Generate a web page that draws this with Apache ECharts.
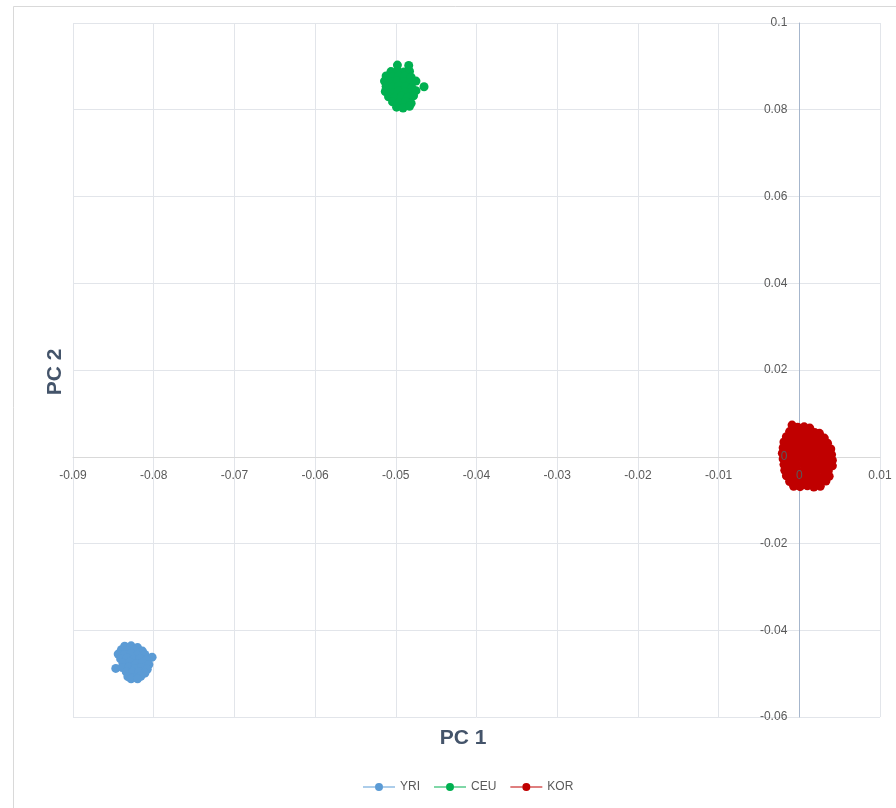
<!DOCTYPE html>
<html>
<head>
<meta charset="utf-8">
<script src="https://cdn.jsdelivr.net/npm/echarts@6/dist/echarts.min.js"></script>
<style>html,body{margin:0;padding:0;background:#fff}#c{width:896px;height:808px}</style>
</head>
<body>
<div id="c"></div>
<script>
var seriesNames = ['YRI', 'CEU', 'KOR'];
var seriesColors = ['#5B9BD5', '#00B050', '#C00000'];
var xTitle = 'PC 1';
var yTitle = 'PC 2';

var yriPoints = [
  [-0.0836,-0.0437],[-0.0828,-0.0436],[-0.0820,-0.0440],[-0.0840,-0.0445],[-0.0832,-0.0447],
  [-0.0824,-0.0446],[-0.0814,-0.0448],[-0.0844,-0.0455],[-0.0836,-0.0456],[-0.0828,-0.0454],
  [-0.0820,-0.0457],[-0.0811,-0.0456],[-0.0802,-0.0462],[-0.0841,-0.0466],[-0.0833,-0.0464],
  [-0.0825,-0.0467],[-0.0817,-0.0465],[-0.0809,-0.0469],[-0.0838,-0.0476],[-0.0830,-0.0474],
  [-0.0822,-0.0477],[-0.0814,-0.0475],[-0.0806,-0.0479],[-0.0847,-0.0488],[-0.0839,-0.0486],
  [-0.0831,-0.0485],[-0.0823,-0.0488],[-0.0815,-0.0486],[-0.0808,-0.0490],[-0.0834,-0.0496],
  [-0.0826,-0.0497],[-0.0818,-0.0495],[-0.0811,-0.0499],[-0.0832,-0.0507],[-0.0824,-0.0509],
  [-0.0816,-0.0506],[-0.0828,-0.0512],[-0.0820,-0.0512]
];

var ceuPoints = [
  [-0.0498,0.0903],[-0.0484,0.0902],
  [-0.0506,0.0888],[-0.0498,0.0890],[-0.0490,0.0887],[-0.0483,0.0889],
  [-0.0512,0.0878],[-0.0504,0.0876],[-0.0496,0.0879],[-0.0489,0.0877],[-0.0481,0.0875],
  [-0.0514,0.0866],[-0.0506,0.0864],[-0.0498,0.0867],[-0.0490,0.0865],[-0.0482,0.0863],[-0.0475,0.0866],
  [-0.0512,0.0854],[-0.0504,0.0852],[-0.0496,0.0855],[-0.0488,0.0853],[-0.0480,0.0851],[-0.0465,0.0853],
  [-0.0513,0.0842],[-0.0505,0.0840],[-0.0497,0.0843],[-0.0489,0.0841],[-0.0481,0.0839],[-0.0475,0.0844],
  [-0.0509,0.0830],[-0.0501,0.0828],[-0.0493,0.0831],[-0.0485,0.0829],[-0.0478,0.0832],
  [-0.0504,0.0818],[-0.0496,0.0816],[-0.0488,0.0819],[-0.0481,0.0815],
  [-0.0499,0.0806],[-0.0491,0.0804],[-0.0483,0.0808]
];

var korPoints = [
  [-0.0009,0.0073],
  [-0.0002,0.0068],[0.0006,0.0069],[0.0013,0.0066],
  [-0.0012,0.0058],[-0.0004,0.0060],[0.0004,0.0057],[0.0011,0.0059],[0.0019,0.0056],[0.0025,0.0054],
  [-0.0016,0.0046],[-0.0008,0.0047],[0.0001,0.0045],[0.0009,0.0048],[0.0016,0.0046],[0.0024,0.0044],[0.0031,0.0043],
  [-0.0019,0.0034],[-0.0011,0.0035],[-0.0003,0.0033],[0.0005,0.0036],[0.0012,0.0034],[0.0020,0.0032],[0.0028,0.0035],[0.0035,0.0031],
  [-0.0020,0.0021],[-0.0012,0.0022],[-0.0005,0.0020],[0.0003,0.0023],[0.0011,0.0021],[0.0018,0.0019],[0.0026,0.0022],[0.0033,0.0020],[0.0039,0.0018],
  [-0.0021,0.0008],[-0.0013,0.0009],[-0.0006,0.0007],[0.0002,0.0010],[0.0010,0.0008],[0.0017,0.0006],[0.0025,0.0009],[0.0032,0.0007],[0.0040,0.0005],
  [-0.0020,-0.0005],[-0.0012,-0.0004],[-0.0004,-0.0006],[0.0004,-0.0003],[0.0011,-0.0005],[0.0019,-0.0007],[0.0027,-0.0004],[0.0034,-0.0006],[0.0041,-0.0008],
  [-0.0019,-0.0018],[-0.0011,-0.0017],[-0.0003,-0.0019],[0.0005,-0.0016],[0.0013,-0.0018],[0.0021,-0.0020],[0.0028,-0.0017],[0.0036,-0.0019],[0.0041,-0.0021],
  [-0.0018,-0.0031],[-0.0010,-0.0030],[-0.0002,-0.0032],[0.0006,-0.0029],[0.0014,-0.0031],[0.0022,-0.0033],[0.0029,-0.0030],[0.0036,-0.0032],
  [-0.0016,-0.0044],[-0.0008,-0.0043],[0.0000,-0.0045],[0.0008,-0.0042],[0.0016,-0.0044],[0.0023,-0.0046],[0.0031,-0.0043],[0.0037,-0.0045],
  [-0.0012,-0.0057],[-0.0004,-0.0056],[0.0004,-0.0058],[0.0012,-0.0055],[0.0020,-0.0057],[0.0027,-0.0059],[0.0033,-0.0056],
  [-0.0007,-0.0068],[0.0001,-0.0069],[0.0010,-0.0067],[0.0018,-0.0070],[0.0026,-0.0068],
  [0.0000,0.0052],[0.0014,0.0040],[-0.0007,0.0027],[0.0022,0.0014],[0.0007,0.0001],[-0.0015,-0.0011],
  [0.0031,-0.0012],[0.0009,-0.0024],[-0.0006,-0.0037],[0.0026,-0.0050],[0.0015,-0.0062],[0.0008,0.0062]
];

var xTicks = {min: -0.09, max: 0.01, interval: 0.01};
var yTicks = {min: -0.06, max: 0.1, interval: 0.02};

var FONT = '"Liberation Sans", "DejaVu Sans", sans-serif';
var W = 896, H = 808;
var G = {left: 73, right: 16, top: 23, bottom: 91};
var gw = W - G.left - G.right, gh = H - G.top - G.bottom;
// move axes so they cross at zero (Excel style)
var yAxisOffset = -gw * (0 - xTicks.min) / (xTicks.max - xTicks.min);
var xAxisOffset = -gh * (0 - yTicks.min) / (yTicks.max - yTicks.min);

var chart = echarts.init(document.getElementById('c'), null, {renderer: 'canvas'});

var legendIcon = 'path://M0,4 L12,4 L12,5 L0,5 Z M20,4 L32,4 L32,5 L20,5 Z M12,4.5 A4,4 0 1,1 20,4.5 A4,4 0 1,1 12,4.5 Z';

var allData = [yriPoints, ceuPoints, korPoints];
var series = seriesNames.map(function (n, i) {
  return {
    name: n,
    type: 'scatter',
    xAxisIndex: 0,
    yAxisIndex: 0,
    data: allData[i],
    symbol: 'circle',
    symbolSize: 9,
    itemStyle: {color: seriesColors[i], opacity: 1},
    emphasis: {disabled: true},
    animation: false
  };
});

var fmt = function (v) {
  return (+v.toFixed(3)).toString();
};

var xLabel = {color: '#595959', fontSize: 12, fontFamily: FONT, margin: 13, formatter: fmt, showMinLabel: true, showMaxLabel: true, hideOverlap: false};
var yLabel = {color: '#595959', fontSize: 12, fontFamily: FONT, margin: 12, formatter: fmt, showMinLabel: true, showMaxLabel: true, hideOverlap: false};

chart.setOption({
  animation: false,
  backgroundColor: '#ffffff',
  grid: {left: G.left, right: G.right, top: G.top, bottom: G.bottom, containLabel: false},
  xAxis: [{
    type: 'value',
    position: 'bottom',
    offset: xAxisOffset,
    min: xTicks.min, max: xTicks.max, interval: xTicks.interval,
    axisLine: {show: true, onZero: false, lineStyle: {color: '#D9D9D9', width: 1}},
    axisTick: {show: false},
    axisLabel: {show: false},
    splitLine: {show: true, lineStyle: {color: '#E2E5EA', width: 1}},
    z: 0
  }, {
    type: 'value',
    position: 'bottom',
    offset: xAxisOffset,
    min: xTicks.min, max: xTicks.max, interval: xTicks.interval,
    axisLine: {show: false, onZero: false},
    axisTick: {show: false},
    axisLabel: xLabel,
    splitLine: {show: false},
    z: 10
  }],
  yAxis: [{
    type: 'value',
    position: 'left',
    offset: yAxisOffset,
    min: yTicks.min, max: yTicks.max, interval: yTicks.interval,
    axisLine: {show: true, onZero: false, lineStyle: {color: '#A6B6CC', width: 1}},
    axisTick: {show: false},
    axisLabel: {show: false},
    splitLine: {show: true, lineStyle: {color: '#E2E5EA', width: 1}},
    z: 0
  }, {
    type: 'value',
    position: 'left',
    offset: yAxisOffset,
    min: yTicks.min, max: yTicks.max, interval: yTicks.interval,
    axisLine: {show: false, onZero: false},
    axisTick: {show: false},
    axisLabel: yLabel,
    splitLine: {show: false},
    z: 10
  }],
  legend: {
    data: seriesNames.map(function (n) { return {name: n, icon: legendIcon}; }),
    left: 363,
    top: 781,
    padding: 0,
    itemWidth: 32,
    itemHeight: 9,
    itemGap: 14,
    textStyle: {color: '#595959', fontSize: 12, fontFamily: FONT},
    selectedMode: false
  },
  graphic: [
    {type: 'rect', shape: {x: 13.5, y: 6.5, width: 1000, height: 1000}, style: {fill: 'none', stroke: '#D9D9D9', lineWidth: 1}, silent: true, z: -1},
    {type: 'text', x: 463, y: 738, style: {text: xTitle, font: 'bold 21px ' + FONT, fill: '#44546A', textAlign: 'center', textVerticalAlign: 'middle'}},
    {type: 'text', x: 55, y: 372, rotation: Math.PI / 2, style: {text: yTitle, font: 'bold 21px ' + FONT, fill: '#44546A', textAlign: 'center', textVerticalAlign: 'middle'}}
  ],
  series: series
});
</script>
</body>
</html>
